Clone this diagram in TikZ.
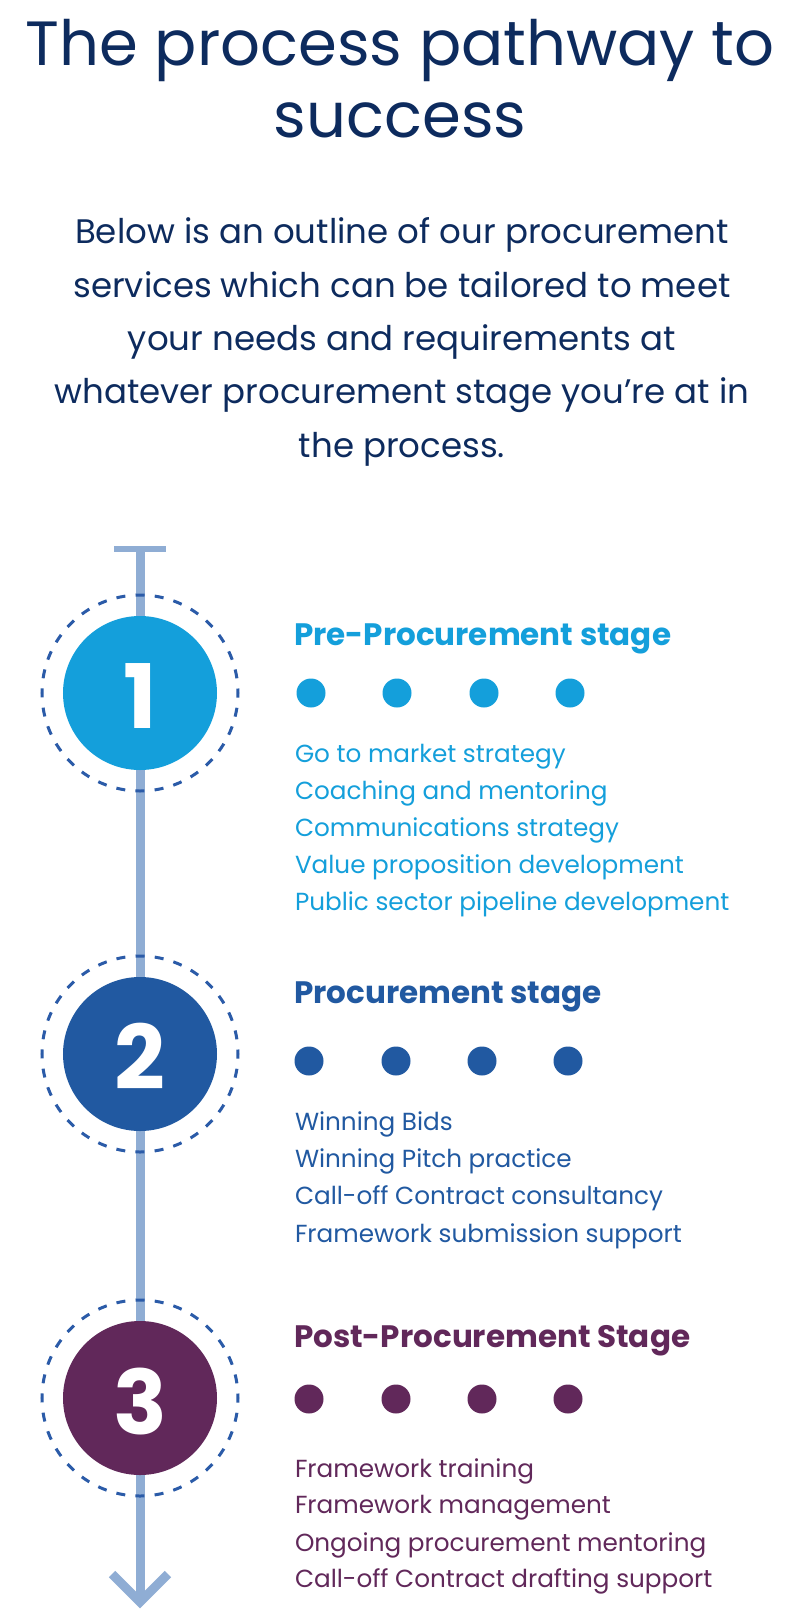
\documentclass[tikz,border=0pt]{standalone}
\usepackage{fontspec}
\setmainfont{Poppins}
\definecolor{navy}{HTML}{0D2B5E}
\definecolor{stA}{HTML}{149FDB}
\definecolor{stB}{HTML}{2159A1}
\definecolor{stC}{HTML}{61285A}
\definecolor{rail}{HTML}{8FADD4}
\definecolor{dashc}{HTML}{2B5BA8}
\begin{document}
\begin{tikzpicture}[x=1bp,y=-1bp,
  every node/.style={inner sep=0pt,outer sep=0pt},
  titletext/.style={anchor=base,text=navy,font=\fontsize{62.5bp}{68bp}\selectfont},
  paratext/.style={anchor=base,text=navy,font=\fontsize{34bp}{38bp}\selectfont},
  headtext/.style={anchor=base west,font=\fontsize{31bp}{34bp}\selectfont\bfseries},
  itemtext/.style={anchor=base west,font=\fontsize{24.7bp}{28bp}\selectfont},
  bigdisc/.style={circle,minimum size=154bp},
  ring/.style={circle,minimum size=196bp,draw=dashc,line width=3bp,dash pattern=on 9bp off 10.24bp,dash phase=4.5bp},
  digit/.style={anchor=base,text=white,font=\fontsize{89bp}{95bp}\selectfont\bfseries},
  dot/.style={circle,minimum size=29bp},
  railline/.style={draw=rail,line width=9bp}
]
\useasboundingbox (0,0) rectangle (800,1612);
\fill[white] (0,0) rectangle (800,1612);

% title
\node[titletext] (t1) at (400,66) {The process pathway to};
\node[titletext] (t2) at (400,137) {success};

% paragraph
\node[paratext] (p1) at (402,243.5) {Below is an outline of our procurement};
\node[paratext] (p2) at (402,297) {services which can be tailored to meet};
\node[paratext] (p3) at (402,350) {your needs and requirements at};
\node[paratext] (p4) at (402,403.5) {whatever procurement stage you’re at in};
\node[paratext] (p5) at (402,457) {the process.};

% rail
\coordinate (railtop) at (140,549);
\coordinate (barL) at (114,549);
\coordinate (barR) at (166,549);
\coordinate (tip) at (140,1602);
\coordinate (armL) at (112,1574);
\coordinate (armR) at (168,1574);
\draw[railline] (railtop) -- (tip);
\draw[draw=rail,line width=6bp] (barL) -- (barR);
\draw[railline,line join=miter] (armL) -- (tip) -- (armR);

% stage circles
\node[ring] (r1) at (140,693) {};
\node[bigdisc,fill=stA] (c1) at (140,693) {};
\node[digit] (n1) at (140,728) {1};

\node[ring] (r2) at (140,1054) {};
\node[bigdisc,fill=stB] (c2) at (140,1054) {};
\node[digit] (n2) at (140,1089) {2};

\node[ring] (r3) at (140,1398) {};
\node[bigdisc,fill=stC] (c3) at (140,1398) {};
\node[digit] (n3) at (140,1434) {3};

% stage 1
\node[headtext,text=stA] (h1) at (294,645) {Pre-Procurement stage};
\foreach \x [count=\i] in {311,397,484,570}
  \node[dot,fill=stA] (a\i) at (\x,693) {};
\foreach \txt/\y [count=\i] in {Go to market strategy/762,Coaching and mentoring/799,Communications strategy/836,Value proposition development/873,Public sector pipeline development/910}
  \node[itemtext,text=stA] (ia\i) at (295,\y) {\txt};

% stage 2
\node[headtext,text=stB] (h2) at (294,1003) {Procurement stage};
\foreach \x [count=\i] in {309,396,482,568}
  \node[dot,fill=stB] (b\i) at (\x,1061) {};
\foreach \txt/\y [count=\i] in {Winning Bids/1130,Winning Pitch practice/1167,Call-off Contract consultancy/1204,Framework submission support/1242}
  \node[itemtext,text=stB] (ib\i) at (295,\y) {\txt};

% stage 3
\node[headtext,text=stC] (h3) at (294,1347) {Post-Procurement Stage};
\foreach \x [count=\i] in {309,396,482,568}
  \node[dot,fill=stC] (d\i) at (\x,1399) {};
\foreach \txt/\y [count=\i] in {Framework training/1477,Framework management/1513,Ongoing procurement mentoring/1551,Call-off Contract drafting support/1587}
  \node[itemtext,text=stC] (ic\i) at (295,\y) {\txt};
\end{tikzpicture}
\end{document}
